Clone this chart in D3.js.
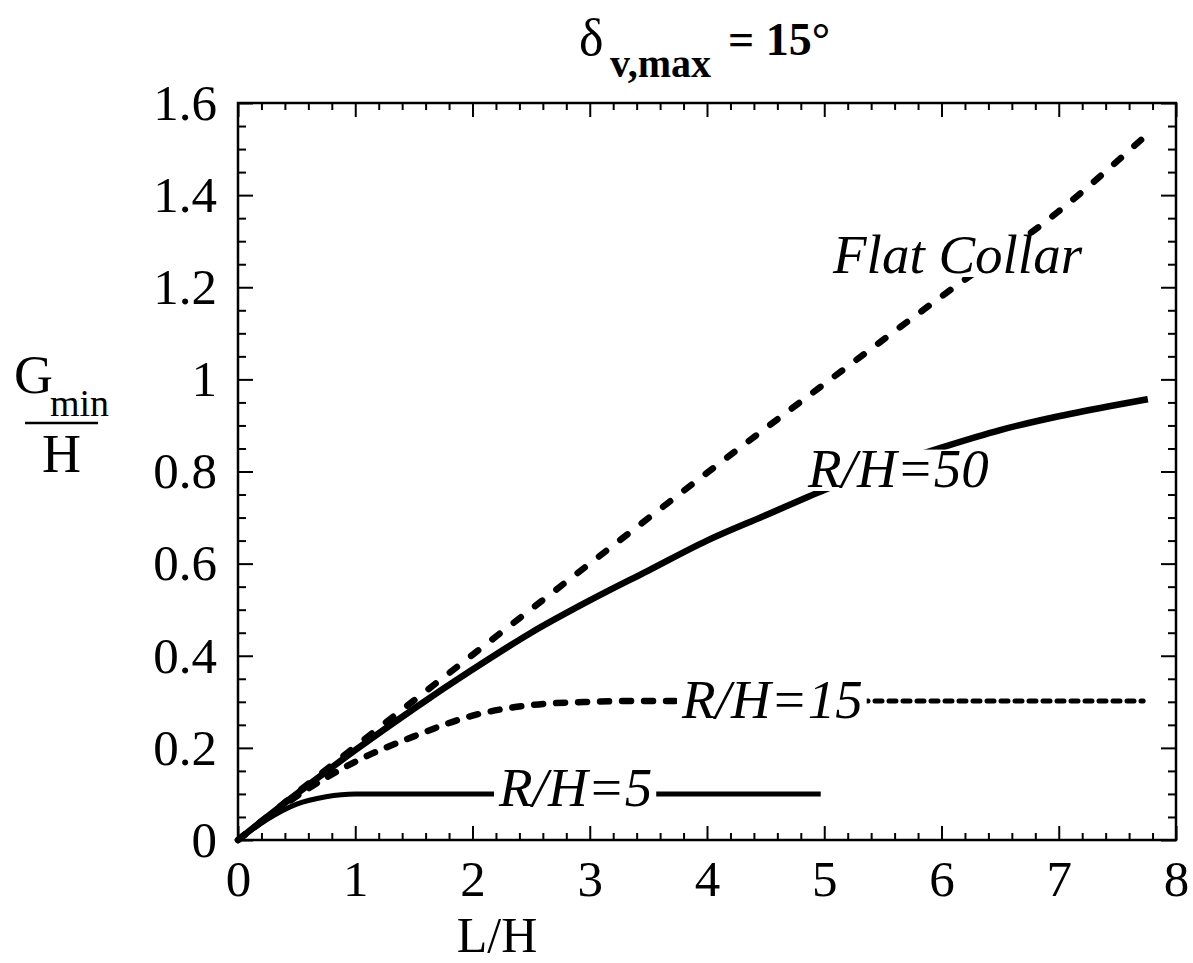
<!DOCTYPE html>
<html>
<head>
<meta charset="utf-8">
<script src="https://cdn.jsdelivr.net/npm/d3@7"></script>
<style>
  html, body { margin: 0; padding: 0; background: #fff; }
  svg { display: block; font-family: "Liberation Serif", "Times New Roman", serif; }
</style>
</head>
<body>
<svg id="chart" width="1193" height="963"></svg>
<script>
// Minimum gap G_min/H versus collar length L/H, δv,max = 15°
const xTickLabels = ["0", "1", "2", "3", "4", "5", "6", "7", "8"];
const yTickLabels = ["0", "0.2", "0.4", "0.6", "0.8", "1", "1.2", "1.4", "1.6"];

const flatCollarL = [0, 0.5, 1, 2, 3, 4, 5, 6, 7, 7.72];
const flatCollarG = [0, 0.102, 0.203, 0.402, 0.6, 0.797, 0.99, 1.18, 1.365, 1.524];

const rh50L = [0, 0.5, 1, 1.5, 2, 2.5, 3, 3.5, 4, 4.5, 5, 5.5, 6, 6.5, 7, 7.5, 7.76];
const rh50G = [0, 0.1, 0.195, 0.285, 0.37, 0.45, 0.52, 0.585, 0.65, 0.705, 0.76, 0.81, 0.852, 0.89, 0.92, 0.945, 0.957];

const rh15L = [0, 0.5, 1, 1.5, 2, 2.5, 3, 3.5, 4, 5, 6, 7, 7.72];
const rh15G = [0, 0.095, 0.17, 0.225, 0.27, 0.293, 0.3, 0.302, 0.302, 0.302, 0.302, 0.302, 0.302];

const rh5L = [0, 0.25, 0.5, 0.75, 1, 2, 3, 4, 4.97];
const rh5G = [0, 0.045, 0.078, 0.094, 0.1, 0.1, 0.1, 0.1, 0.1];

const svg = d3.select("#chart");
const serif = "'Liberation Serif', 'Times New Roman', serif";

const x = d3.scaleLinear().domain([0, 8]).range([238, 1176]);
const y = d3.scaleLinear().domain([0, 1.6]).range([840, 103]);

const xMajor = xTickLabels.map(Number);
const yMajor = yTickLabels.map(Number);
const xMinor = d3.range(0, 8.0001, 0.2).filter(v => Math.abs(v - Math.round(v)) > 1e-6);
const yMinor = d3.range(0, 1.60001, 0.05).filter(v => Math.abs(v / 0.2 - Math.round(v / 0.2)) > 1e-6);

function styleAxis(g) {
  g.select(".domain").remove();
  g.selectAll("line").attr("stroke", "#000").attr("stroke-width", 2);
}

// minor ticks on all four sides (inward)
svg.append("g").attr("transform", `translate(0,${y(0)})`)
  .call(d3.axisBottom(x).tickValues(xMinor).tickSize(-7).tickFormat(""))
  .call(styleAxis);
svg.append("g").attr("transform", `translate(0,${y(1.6)})`)
  .call(d3.axisTop(x).tickValues(xMinor).tickSize(-7).tickFormat(""))
  .call(styleAxis);
svg.append("g").attr("transform", `translate(${x(0)},0)`)
  .call(d3.axisLeft(y).tickValues(yMinor).tickSize(-8).tickFormat(""))
  .call(styleAxis);
svg.append("g").attr("transform", `translate(${x(8)},0)`)
  .call(d3.axisRight(y).tickValues(yMinor).tickSize(-8).tickFormat(""))
  .call(styleAxis);

// major ticks + labels
const xAxis = svg.append("g").attr("transform", `translate(0,${y(0)})`)
  .call(d3.axisBottom(x).tickValues(xMajor).tickSize(-14).tickPadding(20)
    .tickFormat((d, i) => xTickLabels[i]))
  .call(styleAxis);
svg.append("g").attr("transform", `translate(0,${y(1.6)})`)
  .call(d3.axisTop(x).tickValues(xMajor).tickSize(-14).tickFormat(""))
  .call(styleAxis);
const yAxis = svg.append("g").attr("transform", `translate(${x(0)},0)`)
  .call(d3.axisLeft(y).tickValues(yMajor).tickSize(-15).tickPadding(21)
    .tickFormat((d, i) => yTickLabels[i]))
  .call(styleAxis);
svg.append("g").attr("transform", `translate(${x(8)},0)`)
  .call(d3.axisRight(y).tickValues(yMajor).tickSize(-15).tickFormat(""))
  .call(styleAxis);

[xAxis, yAxis].forEach(g => g.selectAll("text")
  .attr("font-family", serif).attr("font-size", 51).attr("fill", "#000"));

// frame
svg.append("rect")
  .attr("x", x(0)).attr("y", y(1.6))
  .attr("width", x(8) - x(0)).attr("height", y(0) - y(1.6))
  .attr("fill", "none").attr("stroke", "#000").attr("stroke-width", 2.5);

// curves
const line = d3.line().x(d => x(d[0])).y(d => y(d[1])).curve(d3.curveMonotoneX);
const zip = (a, b) => a.map((v, i) => [v, b[i]]);

function drawCurve(pts, width, dash) {
  const p = svg.append("path").datum(pts)
    .attr("d", line)
    .attr("fill", "none").attr("stroke", "#000")
    .attr("stroke-width", width)
    .attr("stroke-linejoin", "round");
  if (dash) p.attr("stroke-dasharray", dash).attr("stroke-linecap", "round");
  else p.attr("stroke-linecap", "butt");
  return p;
}

drawCurve(zip(flatCollarL, flatCollarG), 6.5, "9,18");
drawCurve(zip(rh50L, rh50G), 6.5, null);
const rh15 = zip(rh15L, rh15G);
drawCurve(rh15.filter(d => d[0] <= 4), 6.5, "9,13");
drawCurve(rh15.filter(d => d[0] >= 4), 5, "7,7");
drawCurve(zip(rh5L, rh5G), 5, null);

// curve labels over a white backing
const labelSize = 55;
function curveLabel(text, px, py) {
  const g = svg.append("g");
  const rect = g.append("rect").attr("fill", "#fff");
  const t = g.append("text")
    .attr("x", px).attr("y", py)
    .attr("font-family", serif).attr("font-style", "italic")
    .attr("font-size", labelSize).attr("fill", "#000")
    .text(text);
  const bb = t.node().getBBox();
  rect.attr("x", bb.x - 4).attr("width", bb.width + 8)
    .attr("y", py - labelSize * 0.68).attr("height", labelSize * 0.68 + 4);
}
curveLabel("Flat Collar", 833, 273);
curveLabel("R/H=50", 808, 487);
curveLabel("R/H=15", 682, 718);
curveLabel("R/H=5", 499, 806);

// title δv,max = 15°
const title = svg.append("g").attr("font-family", serif).attr("fill", "#000");
title.append("text").attr("x", 579).attr("y", 55).attr("font-size", 52).text("δ");
title.append("text").attr("x", 610).attr("y", 77).attr("font-size", 40)
  .attr("font-weight", "bold").text("v,max");
title.append("text").attr("x", 728).attr("y", 55).attr("font-size", 46)
  .attr("font-weight", "bold").text("= 15°");

// axis titles
svg.append("text").attr("x", 497).attr("y", 952)
  .attr("text-anchor", "middle").attr("font-family", serif)
  .attr("font-size", 50).text("L/H");

const yl = svg.append("g").attr("font-family", serif).attr("fill", "#000");
yl.append("text").attr("x", 14).attr("y", 393).attr("font-size", 54).text("G");
yl.append("text").attr("x", 50).attr("y", 416).attr("font-size", 38).text("min");
yl.append("line").attr("x1", 25).attr("x2", 98).attr("y1", 423).attr("y2", 423)
  .attr("stroke", "#000").attr("stroke-width", 2.5);
yl.append("text").attr("x", 42).attr("y", 472).attr("font-size", 54).text("H");
</script>
</body>
</html>
